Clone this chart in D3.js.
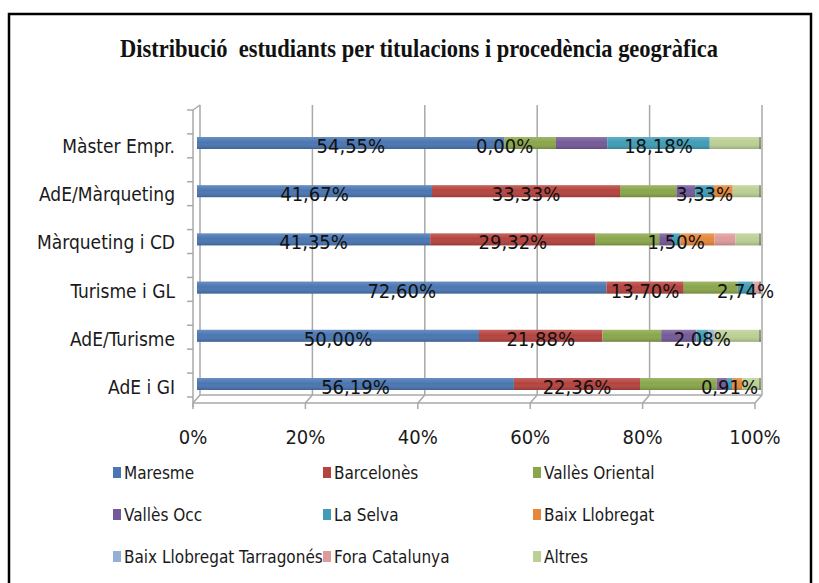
<!DOCTYPE html>
<meta charset="utf-8">
<style>
body { margin: 0; background: #fff; }
.cat { font: 19px "DejaVu Sans Condensed", sans-serif; fill: #1a1a1a; text-anchor: end; }
.tick-label { font: 20px "DejaVu Sans Condensed", sans-serif; fill: #1a1a1a; text-anchor: middle; }
.data-label { font: 20px "DejaVu Sans Condensed", sans-serif; fill: #111; text-anchor: middle; }
.legend { font: 17px "DejaVu Sans Condensed", sans-serif; fill: #1a1a1a; }
.title { font: bold 25px "Liberation Serif", "DejaVu Serif", serif; fill: #111; text-anchor: middle; white-space: pre; }
.grid { stroke: #a8a8a8; stroke-width: 1.5; fill: none; }
</style>
<svg width="819" height="583"></svg>
<script src="https://d3js.org/d3.v7.min.js"></script>
<script>

var categories = ["Màster Empr.", "AdE/Màrqueting", "Màrqueting i CD", "Turisme i GL", "AdE/Turisme", "AdE i GI"];
var seriesNames = ["Maresme", "Barcelonès", "Vallès Oriental", "Vallès Occ", "La Selva", "Baix Llobregat",
                   "Baix Llobregat Tarragonés", "Fora Catalunya", "Altres"];
var colors = ["#4a76b2", "#b5433f", "#8aa64b", "#745a98", "#3f9db6", "#e6873b", "#95b0d6", "#dd9c9a", "#bccf95"];

var maresme        = [54.55, 41.67, 41.35, 72.60, 50.00, 56.19];
var barcelones     = [0.00, 33.33, 29.32, 13.70, 21.88, 22.36];
var vallesOriental = [9.09, 10.00, 11.28, 9.59, 10.42, 13.60];
var vallesOcc      = [9.09, 3.33, 2.26, 0, 6.25, 1.81];
var laSelva        = [18.18, 3.33, 1.50, 2.74, 2.08, 0.91];
var baixLlobregat  = [0, 3.33, 6.02, 0, 0, 1.81];
var baixTarragones = [0, 0, 0, 0, 1.04, 0];
var foraCatalunya  = [0, 0, 3.76, 1.37, 0, 0];
var altres         = [9.09, 5.00, 4.51, 0, 8.33, 3.32];

var seriesValues = [maresme, barcelones, vallesOriental, vallesOcc, laSelva, baixLlobregat,
                    baixTarragones, foraCatalunya, altres];
var labelledSeries = [0, 1, 4]; // series that carry data labels
var xTicks = [0, 20, 40, 60, 80, 100];

var svg = d3.select("svg");

// outer frame
svg.append("rect").attr("x", 9).attr("y", 14).attr("width", 802).attr("height", 600)
    .attr("fill", "#fff").attr("stroke", "#000").attr("stroke-width", 2.5);

svg.append("text").attr("class", "title").attr("x", 419).attr("y", 57)
    .attr("textLength", 598).attr("lengthAdjust", "spacingAndGlyphs")
    .text("Distribució  estudiants per titulacions i procedència geogràfica");

// scales: back wall, front floor edge, bars (in between)
var xBack = d3.scaleLinear().domain([0, 100]).range([200, 762]);
var xFront = d3.scaleLinear().domain([0, 100]).range([193, 755]);
var xBar = d3.scaleLinear().domain([0, 100]).range([197, 761]);
var y = d3.scalePoint().domain(categories).range([143, 384]);

var backTop = 105, backBottom = 395, frontBottom = 403;

// back wall gridlines + floor connectors
var grid = svg.append("g");
xTicks.forEach(function(t) {
  if (t > 0) grid.append("line").attr("class", "grid")
      .attr("x1", xBack(t)).attr("x2", xBack(t)).attr("y1", backTop).attr("y2", backBottom);
  grid.append("line").attr("class", "grid")
      .attr("x1", xBack(t)).attr("x2", xFront(t)).attr("y1", backBottom).attr("y2", frontBottom);
  grid.append("line").attr("class", "grid")
      .attr("x1", xFront(t)).attr("x2", xFront(t)).attr("y1", frontBottom).attr("y2", frontBottom + 6);
});
grid.append("line").attr("class", "grid")
    .attr("x1", xBack(0)).attr("x2", xBack(100)).attr("y1", backBottom).attr("y2", backBottom);
grid.append("line").attr("class", "grid")
    .attr("x1", xFront(0)).attr("x2", xFront(100)).attr("y1", frontBottom).attr("y2", frontBottom);
// left wall
grid.append("line").attr("class", "grid")
    .attr("x1", xBack(0)).attr("x2", xBack(0)).attr("y1", backTop).attr("y2", backBottom);
grid.append("line").attr("class", "grid")
    .attr("x1", xFront(0)).attr("x2", xFront(0)).attr("y1", backTop + 5).attr("y2", frontBottom + 4);
grid.append("line").attr("class", "grid")
    .attr("x1", xFront(0)).attr("x2", xBack(0)).attr("y1", backTop + 5).attr("y2", backTop);
d3.range(13).forEach(function(i) {
  var ty = 110 + i * (397 - 110) / 12;
  grid.append("line").attr("class", "grid")
      .attr("x1", xFront(0) - 6).attr("x2", xFront(0)).attr("y1", ty).attr("y2", ty);
});

// stacked data
var rows = categories.map(function(c, i) {
  var o = { cat: c };
  seriesNames.forEach(function(s, j) { o[s] = seriesValues[j][i]; });
  return o;
});
var stacked = d3.stack().keys(seriesNames)(rows);

var defs = svg.append("defs");
var shade = defs.append("linearGradient").attr("id", "shade").attr("x1", 0).attr("x2", 0).attr("y1", 0).attr("y2", 1);
shade.append("stop").attr("offset", "0%").attr("stop-color", "#fff").attr("stop-opacity", 0.18);
shade.append("stop").attr("offset", "45%").attr("stop-color", "#fff").attr("stop-opacity", 0);
shade.append("stop").attr("offset", "100%").attr("stop-color", "#000").attr("stop-opacity", 0.18);

var barH = 12;
var bars = svg.append("g");
stacked.forEach(function(layer, j) {
  bars.selectAll(null).data(layer).enter().append("rect")
      .attr("x", function(d) { return xBar(d[0]); })
      .attr("width", function(d) { return Math.max(0, xBar(d[1]) - xBar(d[0])); })
      .attr("y", function(d) { return y(d.data.cat) - barH / 2; })
      .attr("height", barH)
      .attr("fill", colors[j]);
});
bars.selectAll(".shade").data(categories).enter().append("rect")
    .attr("x", xBar(0)).attr("width", xBar(100) - xBar(0))
    .attr("y", function(d) { return y(d) - barH / 2; }).attr("height", barH)
    .attr("fill", "url(#shade)");
// end caps
bars.selectAll(".cap").data(categories).enter().append("rect")
    .attr("x", xBar(100) - 2).attr("width", 2)
    .attr("y", function(d) { return y(d) - barH / 2; }).attr("height", barH)
    .attr("fill", "#000").attr("opacity", 0.25);

// data labels
var fmt = function(v) { return v.toFixed(2).replace(".", ",") + "%"; };
labelledSeries.forEach(function(j) {
  svg.selectAll(null).data(stacked[j]).enter().append("text")
      .attr("class", "data-label")
      .attr("x", function(d) { return xBar((d[0] + d[1]) / 2); })
      .attr("y", function(d) { return y(d.data.cat) + 10; })
      .text(function(d) { return fmt(d[1] - d[0]); });
});

// category labels
svg.selectAll(".cat").data(categories).enter().append("text")
    .attr("class", "cat")
    .attr("x", 175)
    .attr("y", function(d) { return y(d) + 10; })
    .text(function(d) { return d; });

// x tick labels
svg.selectAll(".tick-label").data(xTicks).enter().append("text")
    .attr("class", "tick-label")
    .attr("x", function(d) { return xFront(d); })
    .attr("y", 444)
    .text(function(d) { return d + "%"; });

// legend, 3 columns
var legendX = [113, 323, 533], legendY = [473, 515, 557];
var lg = svg.selectAll(".lg").data(seriesNames).enter().append("g")
    .attr("transform", function(d, i) { return "translate(" + legendX[i % 3] + "," + legendY[Math.floor(i / 3)] + ")"; });
lg.append("rect").attr("x", 0).attr("y", -6).attr("width", 8).attr("height", 11)
    .attr("fill", function(d, i) { return colors[i]; });
lg.append("text").attr("class", "legend").attr("x", 11).attr("y", 6).text(function(d) { return d; });

</script>
